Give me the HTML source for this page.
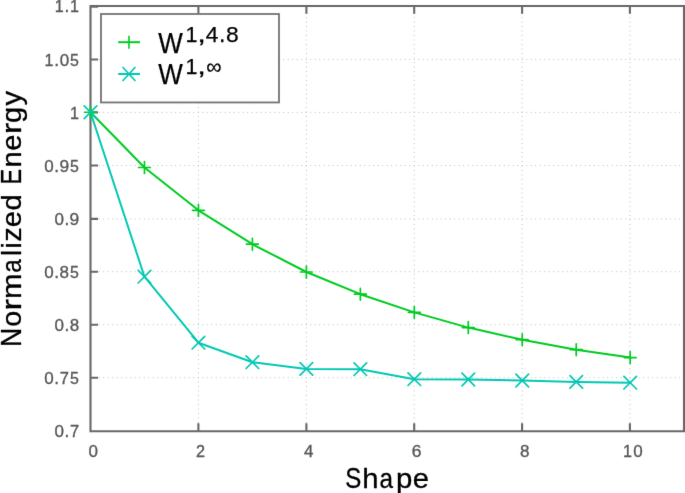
<!DOCTYPE html>
<html><head><meta charset="utf-8"><style>
html,body{margin:0;padding:0;background:#fff;}
body{width:685px;height:493px;overflow:hidden;}
svg{display:block;will-change:transform;font-family:"Liberation Sans",sans-serif;}
</style></head><body>
<svg width="685" height="493" viewBox="0 0 685 493">
<defs><filter id="soft" x="0" y="0" width="1" height="1" color-interpolation-filters="sRGB"><feConvolveMatrix order="3" kernelMatrix="0.0052 0.0619 0.0052 0.0619 0.7314 0.0619 0.0052 0.0619 0.0052" edgeMode="duplicate"/></filter></defs>
<g filter="url(#soft)">
<rect width="685" height="493" fill="#fff"/>
<g stroke="#c0c0c0" stroke-width="1" fill="none">
<g stroke-dasharray="1 3.5" stroke-dashoffset="-3.70"><line x1="90.5" y1="59.45" x2="684.0" y2="59.45"/><line x1="90.5" y1="112.40" x2="684.0" y2="112.40"/><line x1="90.5" y1="165.50" x2="684.0" y2="165.50"/><line x1="90.5" y1="218.90" x2="684.0" y2="218.90"/><line x1="90.5" y1="271.70" x2="684.0" y2="271.70"/><line x1="90.5" y1="324.70" x2="684.0" y2="324.70"/><line x1="90.5" y1="377.70" x2="684.0" y2="377.70"/></g>
<g stroke-dasharray="1 3.5" stroke-dashoffset="-2.00"><line x1="198.40" y1="6.0" x2="198.40" y2="431.2"/><line x1="306.40" y1="6.0" x2="306.40" y2="431.2"/><line x1="414.20" y1="6.0" x2="414.20" y2="431.2"/><line x1="522.10" y1="6.0" x2="522.10" y2="431.2"/><line x1="629.90" y1="6.0" x2="629.90" y2="431.2"/></g>
</g>
<path d="M90.5 431.2V6.0H684.0V431.2ZM90.50 431.2V423.2M90.50 6.0V13.8M198.40 431.2V423.2M198.40 6.0V13.8M306.40 431.2V423.2M306.40 6.0V13.8M414.20 431.2V423.2M414.20 6.0V13.8M522.10 431.2V423.2M522.10 6.0V13.8M629.90 431.2V423.2M629.90 6.0V13.8M90.5 6.80H98.0M90.5 59.45H98.0M90.5 112.40H98.0M90.5 165.50H98.0M90.5 218.90H98.0M90.5 271.70H98.0M90.5 324.70H98.0M90.5 377.70H98.0M90.5 431.20H98.0" stroke="#686868" stroke-width="2.1" fill="none"/>
<g fill="#585858" stroke="#585858" stroke-width="0.35"><text><tspan x="54.69" y="12.00" font-size="16.95" textLength="8.96" lengthAdjust="spacingAndGlyphs">1</tspan><tspan x="64.46" y="12.00" font-size="18.56" textLength="4.81" lengthAdjust="spacingAndGlyphs">.</tspan><tspan x="69.95" y="12.00" font-size="16.95" textLength="8.96" lengthAdjust="spacingAndGlyphs">1</tspan></text><text><tspan x="44.51" y="66.00" font-size="16.95" textLength="8.96" lengthAdjust="spacingAndGlyphs">1</tspan><tspan x="54.28" y="66.00" font-size="18.56" textLength="4.81" lengthAdjust="spacingAndGlyphs">.</tspan><tspan x="59.64" y="66.00" font-size="17.01">0</tspan><tspan x="70.02" y="66.00" font-size="16.95" textLength="8.85" lengthAdjust="spacingAndGlyphs">5</tspan></text><text><tspan x="69.95" y="119.00" font-size="16.95" textLength="8.96" lengthAdjust="spacingAndGlyphs">1</tspan></text><text><tspan x="44.37" y="172.00" font-size="17.01">0</tspan><tspan x="54.28" y="172.00" font-size="18.56" textLength="4.81" lengthAdjust="spacingAndGlyphs">.</tspan><tspan x="59.43" y="172.00" font-size="17.01" textLength="9.69" lengthAdjust="spacingAndGlyphs">9</tspan><tspan x="70.02" y="172.00" font-size="16.95" textLength="8.85" lengthAdjust="spacingAndGlyphs">5</tspan></text><text><tspan x="54.55" y="225.00" font-size="17.01">0</tspan><tspan x="64.46" y="225.00" font-size="18.56" textLength="4.81" lengthAdjust="spacingAndGlyphs">.</tspan><tspan x="69.61" y="225.00" font-size="17.01" textLength="9.69" lengthAdjust="spacingAndGlyphs">9</tspan></text><text><tspan x="44.37" y="278.00" font-size="17.01">0</tspan><tspan x="54.28" y="278.00" font-size="18.56" textLength="4.81" lengthAdjust="spacingAndGlyphs">.</tspan><tspan x="59.59" y="278.00" font-size="17.01">8</tspan><tspan x="70.02" y="278.00" font-size="16.95" textLength="8.85" lengthAdjust="spacingAndGlyphs">5</tspan></text><text><tspan x="54.55" y="331.00" font-size="17.01">0</tspan><tspan x="64.46" y="331.00" font-size="18.56" textLength="4.81" lengthAdjust="spacingAndGlyphs">.</tspan><tspan x="69.77" y="331.00" font-size="17.01">8</tspan></text><text><tspan x="44.37" y="384.00" font-size="17.01">0</tspan><tspan x="54.28" y="384.00" font-size="18.56" textLength="4.81" lengthAdjust="spacingAndGlyphs">.</tspan><tspan x="59.71" y="384.00" font-size="16.95" textLength="9.18" lengthAdjust="spacingAndGlyphs">7</tspan><tspan x="70.02" y="384.00" font-size="16.95" textLength="8.85" lengthAdjust="spacingAndGlyphs">5</tspan></text><text><tspan x="54.55" y="437.00" font-size="17.01">0</tspan><tspan x="64.46" y="437.00" font-size="18.56" textLength="4.81" lengthAdjust="spacingAndGlyphs">.</tspan><tspan x="69.89" y="437.00" font-size="16.95" textLength="9.18" lengthAdjust="spacingAndGlyphs">7</tspan></text><text><tspan x="88.61" y="457.00" font-size="17.01">0</tspan></text><text><tspan x="195.98" y="457.00" font-size="17.01" textLength="9.04" lengthAdjust="spacingAndGlyphs">2</tspan></text><text><tspan x="303.91" y="457.00" font-size="16.95">4</tspan></text><text><tspan x="411.74" y="457.00" font-size="17.01" textLength="9.71" lengthAdjust="spacingAndGlyphs">6</tspan></text><text><tspan x="520.11" y="457.00" font-size="17.01">8</tspan></text><text><tspan x="623.10" y="457.00" font-size="16.95" textLength="8.96" lengthAdjust="spacingAndGlyphs">1</tspan><tspan x="633.15" y="457.00" font-size="17.01">0</tspan></text></g>
<polyline points="90.50,112.25 144.47,167.50 198.44,210.30 252.41,244.20 306.38,272.00 360.35,294.20 414.32,312.40 468.29,327.60 522.26,339.70 576.23,349.70 630.20,357.60" stroke="#00cc22" stroke-width="2" fill="none" stroke-linejoin="round"/>
<polyline points="90.50,112.25 144.47,276.70 198.44,342.70 252.41,362.20 306.38,368.90 360.35,369.20 414.32,379.20 468.29,379.50 522.26,380.50 576.23,381.90 630.20,382.70" stroke="#03c8b4" stroke-width="2" fill="none" stroke-linejoin="round"/>
<path d="M84.60 112.25H96.40M90.50 106.35V118.15M138.57 167.50H150.37M144.47 161.60V173.40M192.54 210.30H204.34M198.44 204.40V216.20M246.51 244.20H258.31M252.41 238.30V250.10M300.48 272.00H312.28M306.38 266.10V277.90M354.45 294.20H366.25M360.35 288.30V300.10M408.42 312.40H420.22M414.32 306.50V318.30M462.39 327.60H474.19M468.29 321.70V333.50M516.36 339.70H528.16M522.26 333.80V345.60M570.33 349.70H582.13M576.23 343.80V355.60M624.30 357.60H636.10M630.20 351.70V363.50" stroke="#00cc22" stroke-width="1.7" fill="none" stroke-linecap="round"/>
<path d="M84.20 105.95L96.80 118.55M84.20 118.55L96.80 105.95M138.17 270.40L150.77 283.00M138.17 283.00L150.77 270.40M192.14 336.40L204.74 349.00M192.14 349.00L204.74 336.40M246.11 355.90L258.71 368.50M246.11 368.50L258.71 355.90M300.08 362.60L312.68 375.20M300.08 375.20L312.68 362.60M354.05 362.90L366.65 375.50M354.05 375.50L366.65 362.90M408.02 372.90L420.62 385.50M408.02 385.50L420.62 372.90M461.99 373.20L474.59 385.80M461.99 385.80L474.59 373.20M515.96 374.20L528.56 386.80M515.96 386.80L528.56 374.20M569.93 375.60L582.53 388.20M569.93 388.20L582.53 375.60M623.90 376.40L636.50 389.00M623.90 389.00L636.50 376.40" stroke="#03c8b4" stroke-width="1.7" fill="none" stroke-linecap="round"/>
<rect x="101" y="14" width="178" height="88.45" fill="#fff" stroke="#747474" stroke-width="1.8"/>
<path d="M118.2 42.2H140" stroke="#00cc22" stroke-width="2" fill="none"/>
<path d="M129 35.7V48.7" stroke="#00cc22" stroke-width="1.6" fill="none"/>
<path d="M118.2 74H140" stroke="#03c8b4" stroke-width="2" fill="none"/>
<path d="M123 67.5L135 80.5M123 80.5L135 67.5" stroke="#03c8b4" stroke-width="1.7" fill="none" stroke-linecap="round"/>
<g fill="#000" stroke="#000" stroke-width="0.25"><text><tspan x="158.17" y="52.90" font-size="28.61" textLength="24.57" lengthAdjust="spacingAndGlyphs">W</tspan><tspan x="185.41" y="41.90" font-size="22.68" textLength="11.98" lengthAdjust="spacingAndGlyphs">1</tspan><tspan x="197.16" y="41.59" font-size="21.89" textLength="8.67" lengthAdjust="spacingAndGlyphs">,</tspan><tspan x="205.64" y="41.90" font-size="22.68">4</tspan><tspan x="218.91" y="41.90" font-size="24.82" textLength="6.43" lengthAdjust="spacingAndGlyphs">.</tspan><tspan x="226.00" y="41.90" font-size="22.75">8</tspan></text><text><tspan x="158.17" y="83.90" font-size="28.61" textLength="24.57" lengthAdjust="spacingAndGlyphs">W</tspan><tspan x="185.41" y="73.90" font-size="22.68" textLength="11.98" lengthAdjust="spacingAndGlyphs">1</tspan><tspan x="197.16" y="73.59" font-size="21.89" textLength="8.67" lengthAdjust="spacingAndGlyphs">,</tspan><tspan x="206.35" y="74.10" font-size="22.11" textLength="15.30" lengthAdjust="spacingAndGlyphs">∞</tspan></text></g>
<g fill="#000" stroke="#000" stroke-width="0.3">
<text><tspan x="345.31" y="488.30" font-size="28.70" textLength="16.05" lengthAdjust="spacingAndGlyphs">S</tspan><tspan x="362.18" y="488.30" font-size="28.31" textLength="16.30" lengthAdjust="spacingAndGlyphs">h</tspan><tspan x="379.46" y="488.30" font-size="28.10" textLength="13.50" lengthAdjust="spacingAndGlyphs">a</tspan><tspan x="395.98" y="488.14" font-size="27.83" textLength="16.34" lengthAdjust="spacingAndGlyphs">p</tspan><tspan x="412.81" y="488.30" font-size="28.10" textLength="16.22" lengthAdjust="spacingAndGlyphs">e</tspan></text>
<g transform="translate(20.8 0) rotate(-90)"><text><tspan x="-346.89" y="0.00" font-size="28.61" textLength="19.26" lengthAdjust="spacingAndGlyphs">N</tspan><tspan x="-326.87" y="0.00" font-size="28.10" textLength="15.96" lengthAdjust="spacingAndGlyphs">o</tspan><tspan x="-310.48" y="0.00" font-size="28.10" textLength="11.52" lengthAdjust="spacingAndGlyphs">r</tspan><tspan x="-299.12" y="0.00" font-size="28.10" textLength="25.63" lengthAdjust="spacingAndGlyphs">m</tspan><tspan x="-272.64" y="0.00" font-size="28.10" textLength="13.50" lengthAdjust="spacingAndGlyphs">a</tspan><tspan x="-256.00" y="0.00" font-size="28.31" textLength="6.13" lengthAdjust="spacingAndGlyphs">l</tspan><tspan x="-248.49" y="0.00" font-size="28.31" textLength="6.13" lengthAdjust="spacingAndGlyphs">i</tspan><tspan x="-241.70" y="0.00" font-size="27.95" textLength="14.47" lengthAdjust="spacingAndGlyphs">z</tspan><tspan x="-227.26" y="0.00" font-size="28.10" textLength="16.22" lengthAdjust="spacingAndGlyphs">e</tspan><tspan x="-210.64" y="0.00" font-size="28.31" textLength="16.32" lengthAdjust="spacingAndGlyphs">d</tspan><tspan x="-193.76" y="0.00"> </tspan><tspan x="-184.45" y="0.00" font-size="28.61" textLength="15.61" lengthAdjust="spacingAndGlyphs">E</tspan><tspan x="-167.60" y="0.00" font-size="28.10" textLength="16.19" lengthAdjust="spacingAndGlyphs">n</tspan><tspan x="-150.76" y="0.00" font-size="28.10" textLength="16.22" lengthAdjust="spacingAndGlyphs">e</tspan><tspan x="-134.24" y="0.00" font-size="28.10" textLength="11.52" lengthAdjust="spacingAndGlyphs">r</tspan><tspan x="-123.04" y="-0.17" font-size="27.87" textLength="16.32" lengthAdjust="spacingAndGlyphs">g</tspan><tspan x="-105.42" y="-0.13" font-size="27.70" textLength="14.50" lengthAdjust="spacingAndGlyphs">y</tspan></text></g>
</g>
</g>
</svg>
</body></html>
